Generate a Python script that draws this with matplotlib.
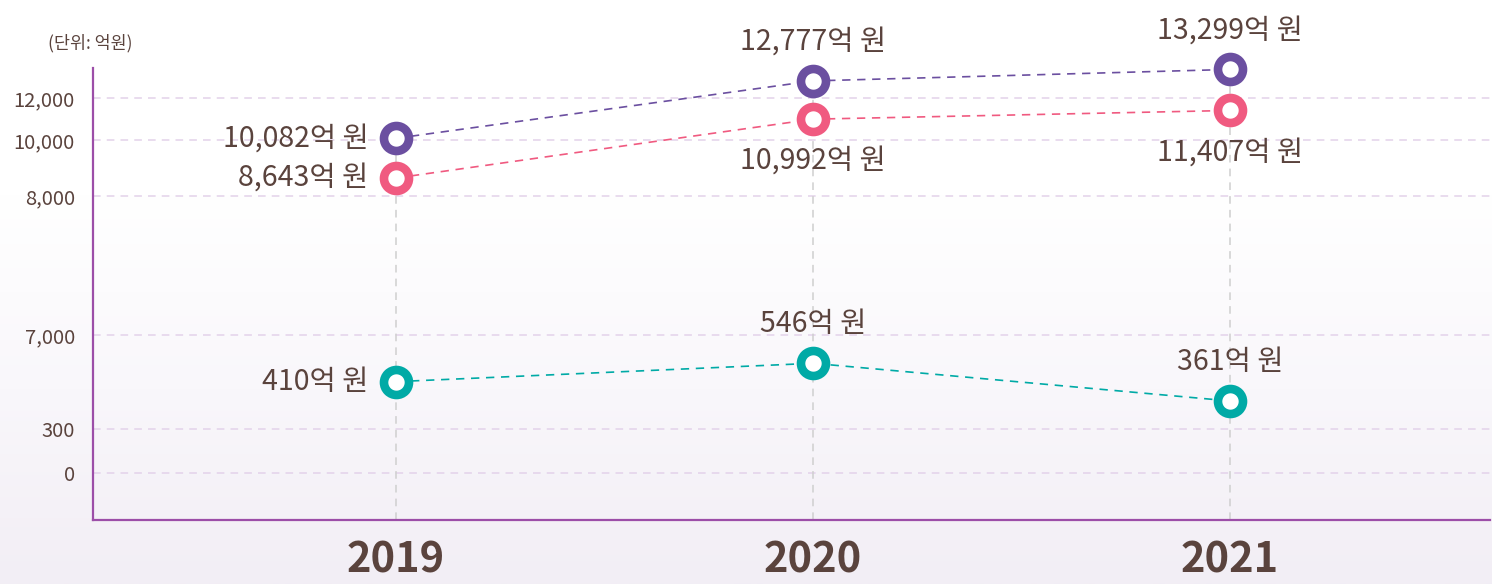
import numpy as np
import matplotlib
matplotlib.use("Agg")
import matplotlib.pyplot as plt
from matplotlib.colors import LinearSegmentedColormap

plt.rcParams['font.family'] = ['Noto Sans CJK KR', 'DejaVu Sans']

# data (unit: 억원)
years = [2019, 2020, 2021]
purple_vals = [10082, 12777, 13299]
pink_vals = [8643, 10992, 11407]
teal_vals = [410, 546, 361]
ytick_vals = [0, 300, 7000, 8000, 10000, 12000]
unit_text = '(단위: 억원)'

# broken, piecewise axis like the original infographic
scale_vals = [-320, 0, 300, 400, 600, 7000, 8000, 10000, 12000, 14000]
scale_pos = [0, 47, 91, 137, 164, 185, 324, 380, 422, 466]


def fwd(v):
    return np.interp(v, scale_vals, scale_pos)


def inv(p):
    return np.interp(p, scale_pos, scale_vals)


TEXT = '#5a433d'
series = [
    (purple_vals, '#6b4fa0', ['left', 'above', 'above']),
    (pink_vals, '#f05a80', ['left', 'below', 'below']),
    (teal_vals, '#00aaa6', ['left', 'above', 'above']),
]

fig = plt.figure(figsize=(14.92, 5.84), dpi=100)

# soft gradient background
bg = fig.add_axes([0, 0, 1, 1], zorder=-10)
cmap = LinearSegmentedColormap.from_list('bg', ['#ffffff', '#ffffff', '#f9f7fb', '#f2eef5'])
bg.imshow(np.linspace(0, 1, 256).reshape(-1, 1), aspect='auto', cmap=cmap,
          extent=[0, 1, 0, 1], origin='upper')
bg.axis('off')

ax = fig.add_axes([93 / 1492, 1 - 520 / 584, 1397 / 1492, 452 / 584])
ax.set_facecolor('none')
ax.set_yscale('function', functions=(fwd, inv))
ax.set_xlim(2018.273, 2021.624)
ax.set_ylim(-320, 13364)

for s in ['top', 'right']:
    ax.spines[s].set_visible(False)
for s in ['left', 'bottom']:
    ax.spines[s].set_color('#9c4ea8')
    ax.spines[s].set_linewidth(1.6)

ax.set_yticks(ytick_vals)
ax.set_yticklabels([f'{v:,}' for v in ytick_vals], fontsize=14.5, color=TEXT)
ax.tick_params(axis='y', length=0, pad=13)
ax.set_xticks(years)
ax.set_xticklabels([str(y) for y in years], fontsize=30, fontweight='bold', color=TEXT)
ax.tick_params(axis='x', length=0, pad=14)

for v in ytick_vals:
    ax.axhline(v, color='#e3d2ea', lw=1.1, ls=(0, (5, 4)), zorder=1)

tops = np.max([purple_vals, pink_vals, teal_vals], axis=0)
ax.vlines(years, -320, tops, color='#cfcfcf', lw=1.1, ls=(0, (5, 4)), zorder=1)

offsets = {'left': ((-20, 0), 'right', 'center'),
           'above': ((0, 28), 'center', 'center'),
           'below': ((0, -30), 'center', 'center')}

for vals, color, places in series:
    ax.plot(years, vals, color=color, lw=1.2, ls=(0, (5, 4)), zorder=3,
            marker='o', ms=18, mew=6.2, mec=color, mfc='white', clip_on=False)
    for x, v, place in zip(years, vals, places):
        off, ha, va = offsets[place]
        ax.annotate(f'{v:,}억 원', (x, v), xytext=off, textcoords='offset points',
                    ha=ha, va=va, fontsize=20.5, color=TEXT, annotation_clip=False)

fig.text(48 / 1492, 1 - 43 / 584, unit_text, fontsize=12.5, color=TEXT, va='center')

fig.savefig('out.png', dpi=100)
